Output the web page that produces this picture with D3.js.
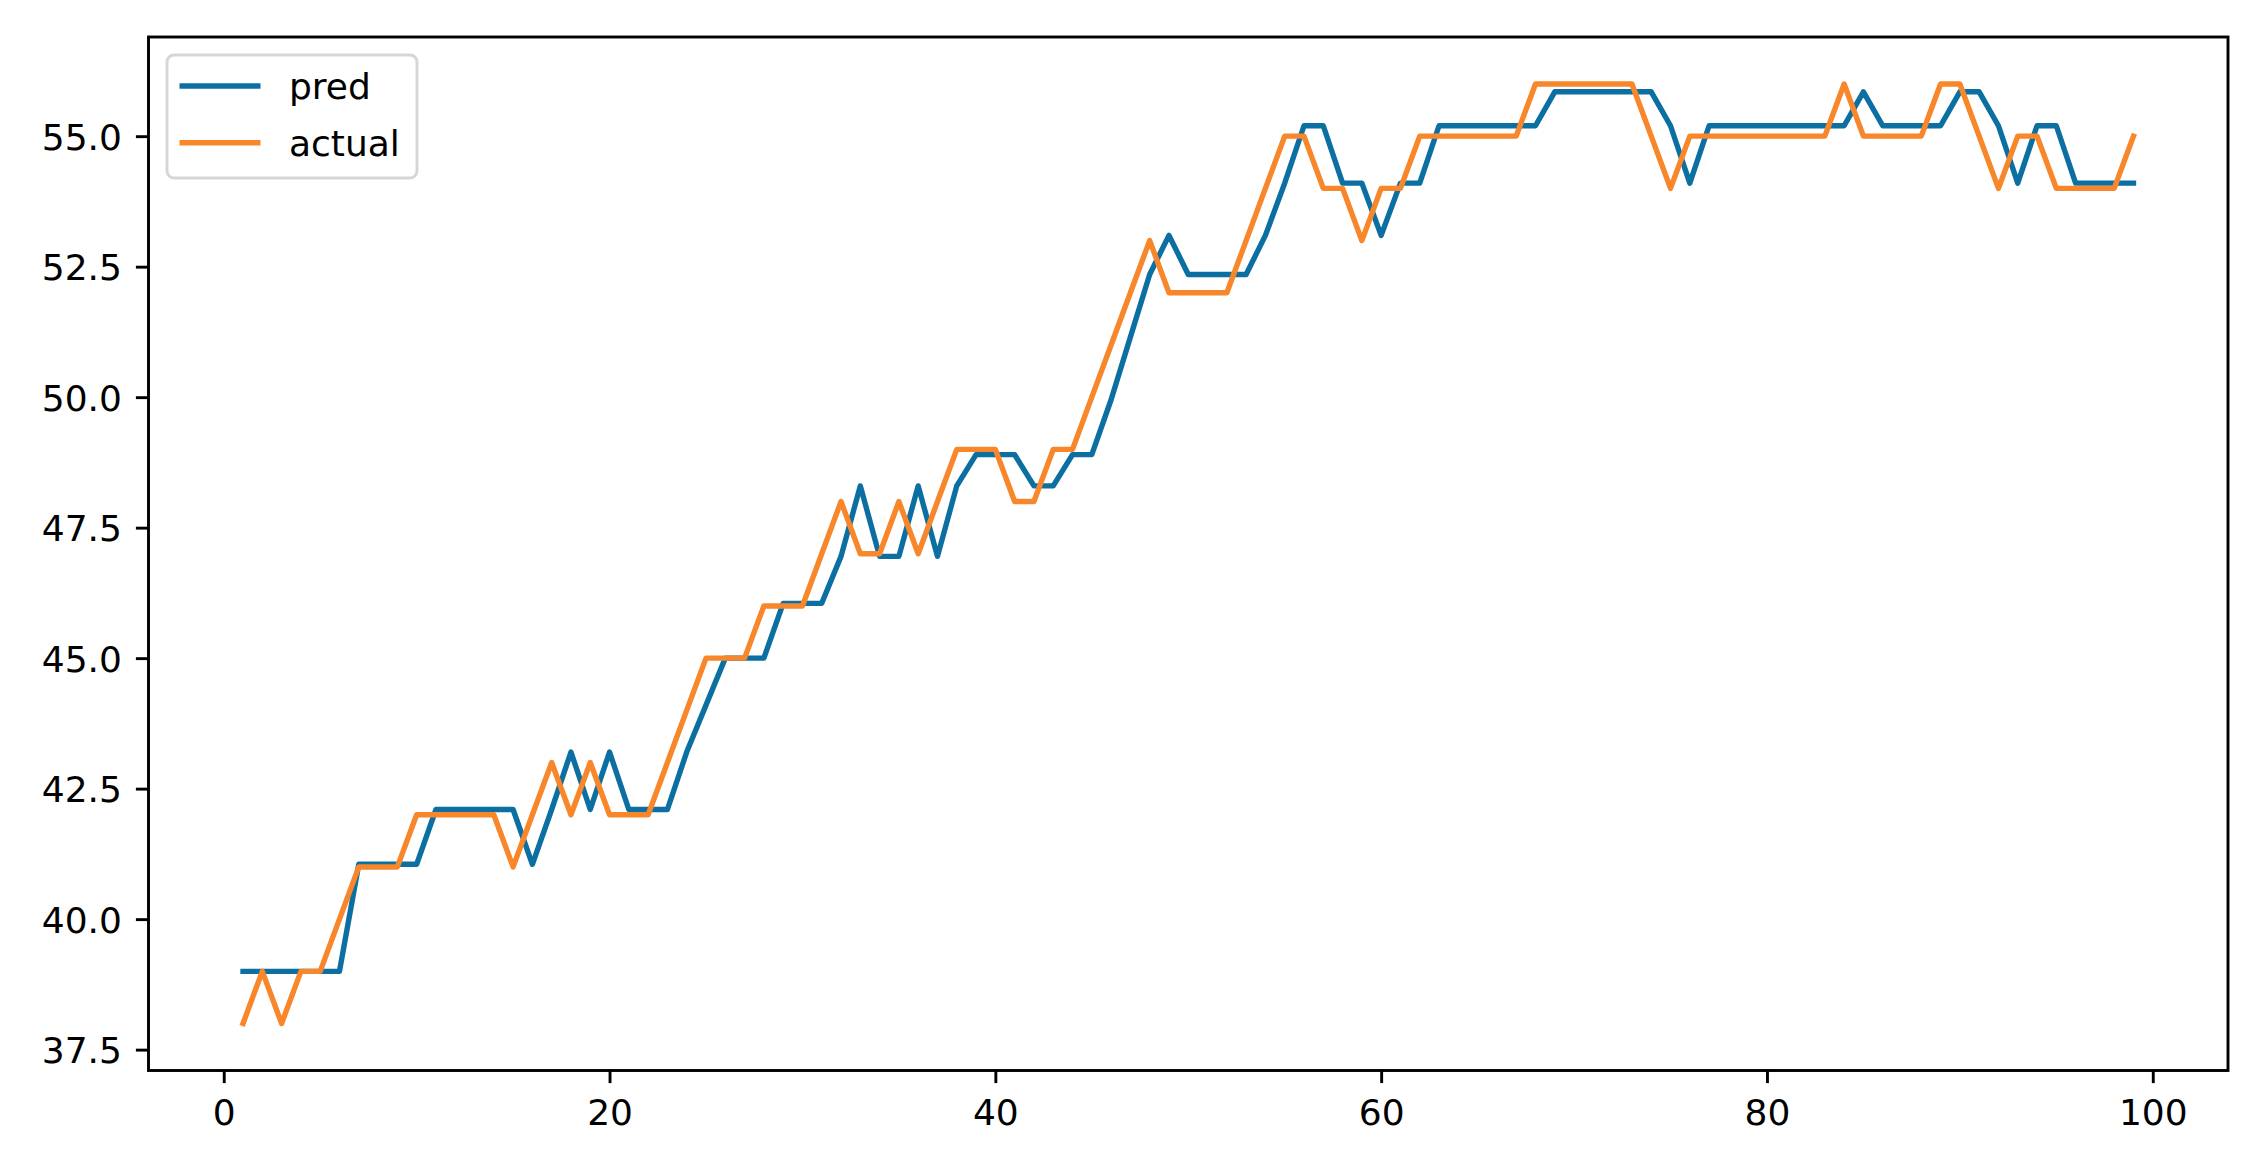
<!DOCTYPE html>
<html>
<head>
<meta charset="utf-8">
<script src="https://cdn.jsdelivr.net/npm/d3@7"></script>
<style>
  body { margin: 0; background: #fff; }
  svg { display: block; }
  .tick text { font-family: "DejaVu Sans", sans-serif; fill: #000; }
</style>
</head>
<body>
<div id="main"></div>
<script>
// x index, actual values and model predictions
var steps = d3.range(1, 100);

var actual = [
  38, 39, 38, 39, 39, 40, 41, 41, 41, 42,
  42, 42, 42, 42, 41, 42, 43, 42, 43, 42,
  42, 42, 43, 44, 45, 45, 45, 46, 46, 46,
  47, 48, 47, 47, 48, 47, 48, 49, 49, 49,
  48, 48, 49, 49, 50, 51, 52, 53, 52, 52,
  52, 52, 53, 54, 55, 55, 54, 54, 53, 54,
  54, 55, 55, 55, 55, 55, 55, 56, 56, 56,
  56, 56, 56, 55, 54, 55, 55, 55, 55, 55,
  55, 55, 55, 56, 55, 55, 55, 55, 56, 56,
  55, 54, 55, 55, 54, 54, 54, 54, 55
];

var pred = [
  39.0, 39.0, 39.0, 39.0, 39.0, 39.0, 41.05, 41.05, 41.05, 41.05,
  42.1, 42.1, 42.1, 42.1, 42.1, 41.05, 42.1, 43.2, 42.1, 43.2,
  42.1, 42.1, 42.1, 43.2, 44.1, 45.0, 45.0, 45.0, 46.05, 46.05,
  46.05, 46.95, 48.3, 46.95, 46.95, 48.3, 46.95, 48.3, 48.9, 48.9,
  48.9, 48.3, 48.3, 48.9, 48.9, 49.95, 51.15, 52.35, 53.1, 52.35,
  52.35, 52.35, 52.35, 53.1, 54.1, 55.2, 55.2, 54.1, 54.1, 53.1,
  54.1, 54.1, 55.2, 55.2, 55.2, 55.2, 55.2, 55.2, 55.85, 55.85,
  55.85, 55.85, 55.85, 55.85, 55.2, 54.1, 55.2, 55.2, 55.2, 55.2,
  55.2, 55.2, 55.2, 55.2, 55.85, 55.2, 55.2, 55.2, 55.2, 55.85,
  55.85, 55.2, 54.1, 55.2, 55.2, 54.1, 54.1, 54.1, 54.1
];

var xTicks = [0, 20, 40, 60, 80, 100];
var yTicks = [37.5, 40.0, 42.5, 45.0, 47.5, 50.0, 52.5, 55.0];
var seriesNames = ["pred", "actual"];
var colors = ["#0c6fa2", "#f8862a"];

var W = 2264, H = 1164;
var margin = {top: 37, right: 36, bottom: 93.5, left: 148.5};
var width = W - margin.left - margin.right;
var height = H - margin.top - margin.bottom;
var fs = 36;      // font size in px
var tick = 12.6;  // tick length

var svg = d3.select("#main")
  .append("svg")
  .attr("width", W)
  .attr("height", H);

var g = svg.append("g")
  .attr("transform", "translate(" + margin.left + "," + margin.top + ")");

// matplotlib style autoscale with 5% margins
var x = d3.scaleLinear().domain([-3.9, 103.9]).range([0, width]);
var y = d3.scaleLinear().domain([37.1, 56.9]).range([height, 0]);

var line = d3.line()
  .x(function(d, i) { return x(steps[i]); })
  .y(function(d) { return y(d); });

[pred, actual].forEach(function(s, k) {
  g.append("path")
    .datum(s)
    .attr("fill", "none")
    .attr("stroke", colors[k])
    .attr("stroke-width", 5.4)
    .attr("stroke-linejoin", "round")
    .attr("stroke-linecap", "square")
    .attr("d", line);
});

// axes
var xAxis = g.append("g")
  .attr("transform", "translate(0," + height + ")")
  .call(d3.axisBottom(x).tickValues(xTicks).tickSize(tick).tickPadding(16).tickFormat(d3.format("d")));
var yAxis = g.append("g")
  .call(d3.axisLeft(y).tickValues(yTicks).tickSize(tick).tickPadding(14).tickFormat(d3.format(".1f")));

[xAxis, yAxis].forEach(function(a) {
  a.select(".domain").remove();
  a.selectAll(".tick line").attr("stroke", "#000").attr("stroke-width", 2.9);
  a.selectAll(".tick text").attr("font-size", fs);
});
xAxis.selectAll(".tick text").attr("dy", "0.71em");
yAxis.selectAll(".tick text").attr("dy", "0.36em");

// frame
g.append("rect")
  .attr("width", width)
  .attr("height", height)
  .attr("fill", "none")
  .attr("stroke", "#000")
  .attr("stroke-width", 2.9);

// legend
var leg = g.append("g").attr("transform", "translate(18.5,18)");
leg.append("rect")
  .attr("width", 250)
  .attr("height", 123)
  .attr("rx", 7)
  .attr("fill", "#fff")
  .attr("fill-opacity", 0.8)
  .attr("stroke", "#d6d6d6")
  .attr("stroke-width", 2.9);

seriesNames.forEach(function(name, k) {
  var ly = 31 + k * 56.7;
  leg.append("line")
    .attr("x1", 12.5).attr("x2", 93.5)
    .attr("y1", ly).attr("y2", ly)
    .attr("stroke", colors[k])
    .attr("stroke-width", 5.4);
  leg.append("text")
    .attr("x", 122)
    .attr("y", ly + 13)
    .attr("font-family", "DejaVu Sans, sans-serif")
    .attr("font-size", fs)
    .attr("fill", "#000")
    .text(name);
});
</script>
</body>
</html>
